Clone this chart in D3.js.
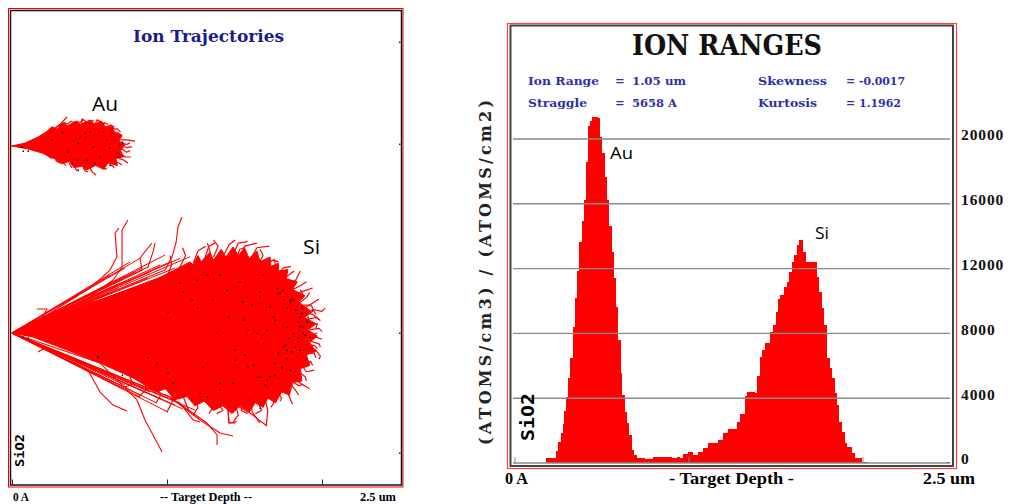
<!DOCTYPE html>
<html>
<head>
<meta charset="utf-8">
<script src="https://cdn.jsdelivr.net/npm/d3@7"></script>
<style>
  html, body { margin: 0; padding: 0; background: #fff; }
  svg { display: block; }
</style>
</head>
<body>
<div id="chart"></div>
<script>
// ---- data, depth and lateral in um, range in atoms ----
const rangeDepth = [0.181,0.239,0.250,0.266,0.277,0.286,0.296,0.309,0.321,0.336,0.346,0.361,0.372,0.388,0.398,0.413,0.424,0.434,0.447,0.463,0.478,0.491,0.505,0.518,0.533,0.545,0.559,0.570,0.585,0.597,0.610,0.620,0.633,0.647,0.660,0.674,0.687,0.706,0.750,0.798,0.903,0.932,0.951,0.968,0.997,1.026,1.055,1.083,1.112,1.170,1.198,1.227,1.279,1.296,1.325,1.336,1.382,1.394,1.411,1.422,1.440,1.468,1.486,1.503,1.514,1.526,1.549,1.566,1.578,1.595,1.606,1.624,1.635,1.658,1.675,1.739,1.750,1.767,1.779,1.796,1.813,1.825,1.842,1.853,1.865,1.882,1.900,1.911,1.940,1.957,1.997,2.032,2.480,2.500];
const rangeAtoms = [290,760,1315,1850,2410,3210,4090,5270,6460,8380,10170,11850,13620,14940,16240,18560,20800,21110,21380,21380,21280,20110,19120,17670,16240,14650,13040,11400,9650,7590,5560,4200,3170,2490,1730,800,490,290,230,390,310,390,310,560,660,490,700,910,1210,1420,1830,2120,2550,3010,4160,4370,4320,5380,6560,6980,7390,8100,8520,9300,10100,10370,10840,11150,11770,12390,12840,13460,13750,13040,12390,11500,10570,9540,8520,6460,5850,5230,4300,3580,2550,1930,1210,1010,600,290,80,0,80,0];
const rangeTicks = [0, 4000, 8000, 12000, 16000, 20000];
const depthTicks = [0, 1, 2];
const sideTicks = [1.877, 1.219, 0, -0.774];

const siOutline = [[0,0],[0.181,0.071],[0.374,0.142],[0.503,0.194],[0.716,0.265],[0.935,0.348],[1.148,0.458],[1.17,0.44],[1.20,0.50],[1.22,0.46],[1.277,0.52],[1.30,0.47],[1.35,0.54],[1.38,0.49],[1.426,0.555],[1.46,0.50],[1.50,0.55],[1.53,0.48],[1.58,0.53],[1.60,0.46],[1.665,0.49],[1.67,0.43],[1.72,0.45],[1.72,0.40],[1.78,0.41],[1.77,0.35],[1.84,0.33],[1.81,0.28],[1.89,0.24],[1.85,0.20],[1.93,0.14],[1.89,0.10],[1.96,0.06],[1.91,0.02],[1.97,-0.02],[1.92,-0.06],[1.96,-0.12],[1.90,-0.14],[1.92,-0.21],[1.86,-0.23],[1.87,-0.31],[1.81,-0.32],[1.79,-0.40],[1.74,-0.38],[1.70,-0.45],[1.65,-0.42],[1.62,-0.48],[1.57,-0.45],[1.53,-0.51],[1.47,-0.47],[1.42,-0.52],[1.36,-0.47],[1.30,-0.50],[1.24,-0.44],[1.18,-0.47],[1.13,-0.41],[1.05,-0.43],[0.99,-0.36],[0.93,-0.38],[0.781,-0.290],[0.568,-0.194],[0.355,-0.110],[0.135,-0.026]];
const siFanTips = [[0.987,0.503],[1.084,0.482],[0.826,0.482],[1.148,0.492],[0.729,0.419],[0.632,0.374],[0.761,0.458],[0.697,0.323],[0.761,0.342],[0.794,0.394],[0.839,0.419],[0.890,0.394],[0.955,0.439],[1.019,0.458],[1.052,0.419],[0.632,0.258],[0.684,0.290],[0.729,0.368],[0.806,0.297],[0.877,0.355],[0.923,0.323],[0.987,0.368],[1.071,0.394],[1.116,0.419],[0.600,0.213],[0.535,0.213],[0.503,-0.206],[0.632,-0.271],[0.729,-0.335],[0.890,-0.381],[1.052,-0.465],[1.181,-0.497],[0.826,-0.400],[1.006,-0.510],[0.935,-0.452],[0.826,-0.413],[0.710,-0.355],[0.560,-0.250],[0.660,-0.320],[0.770,-0.370],[0.970,-0.430],[1.100,-0.490]];
const siHairs = [
  [[1.00,0.36],[1.03,0.44],[1.02,0.50]],[[1.08,0.42],[1.12,0.50],[1.10,0.55]],[[1.17,0.45],[1.20,0.53],[1.25,0.56]],[[1.24,0.47],[1.27,0.56],[1.31,0.58]],
  [[1.30,0.49],[1.33,0.56],[1.30,0.60]],[[1.36,0.49],[1.40,0.57],[1.44,0.60]],[[1.42,0.49],[1.46,0.58],[1.52,0.59]],[[1.48,0.48],[1.50,0.56],[1.58,0.58]],
  [[1.53,0.46],[1.58,0.55],[1.66,0.56]],[[1.58,0.43],[1.62,0.50],[1.60,0.54]],[[1.62,0.41],[1.68,0.47],[1.72,0.46]],[[1.66,0.39],[1.70,0.44],[1.69,0.48]],
  [[1.70,0.36],[1.75,0.42],[1.80,0.43]],[[1.73,0.33],[1.78,0.37],[1.82,0.40]],[[1.76,0.30],[1.83,0.34],[1.86,0.40]],[[1.79,0.27],[1.85,0.30],[1.90,0.33]],
  [[1.82,0.25],[1.88,0.27],[1.94,0.29]],[[1.85,0.19],[1.90,0.23],[1.92,0.26]],[[1.87,0.15],[1.95,0.20],[1.98,0.22]],[[1.90,0.11],[1.95,0.15],[2.00,0.14],[2.02,0.16]],
  [[1.91,0.09],[1.96,0.10],[1.99,0.08]],[[1.92,0.05],[1.97,0.06],[1.96,0.03]],[[1.92,0.02],[1.98,0.03],[2.00,0.01]],[[1.93,-0.01],[1.97,-0.03],[2.00,-0.04]],
  [[1.92,-0.05],[1.98,-0.07],[1.99,-0.09]],[[1.92,-0.09],[1.96,-0.11],[1.99,-0.15],[1.98,-0.17]],[[1.90,-0.13],[1.95,-0.13],[1.96,-0.16]],[[1.88,-0.17],[1.93,-0.19],[1.94,-0.21]],
  [[1.87,-0.21],[1.90,-0.25],[1.95,-0.24]],[[1.85,-0.25],[1.89,-0.28],[1.90,-0.31]],[[1.82,-0.29],[1.87,-0.33],[1.92,-0.36]],[[1.79,-0.32],[1.83,-0.37],[1.85,-0.40]],
  [[1.75,-0.35],[1.78,-0.39],[1.81,-0.46]],[[1.71,-0.38],[1.74,-0.42],[1.73,-0.44]],[[1.67,-0.40],[1.69,-0.45],[1.67,-0.48]],[[1.63,-0.41],[1.65,-0.50],[1.64,-0.60]],
  [[1.58,-0.43],[1.61,-0.50],[1.57,-0.52]],[[1.54,-0.44],[1.55,-0.51],[1.60,-0.58]],[[1.49,-0.45],[1.48,-0.50],[1.52,-0.52]],[[1.44,-0.46],[1.46,-0.53],[1.43,-0.57]],
  [[1.39,-0.46],[1.40,-0.58],[1.44,-0.58]],[[1.33,-0.45],[1.36,-0.50],[1.32,-0.52]],[[1.26,-0.43],[1.29,-0.49],[1.27,-0.52]],[[1.18,-0.43],[1.20,-0.48],[1.17,-0.53]],
  [[1.10,-0.40],[1.12,-0.45],[1.14,-0.50]],[[1.02,-0.37],[1.04,-0.43],[1.00,-0.51]],[[0.93,-0.34],[0.96,-0.40],[0.93,-0.45]],[[0.85,-0.31],[0.87,-0.36],[0.82,-0.41]],
  [[0.76,-0.28],[0.78,-0.33],[0.71,-0.355]],[[1.88,0.18],[1.93,0.18],[1.96,0.12]],[[1.90,0.13],[1.94,0.12],[1.98,0.09]],[[1.91,-0.03],[1.94,-0.01],[1.97,0.00]],
  [[1.90,-0.08],[1.95,-0.08],[1.97,-0.10]],[[1.86,-0.20],[1.90,-0.21],[1.93,-0.18]],[[1.80,-0.31],[1.85,-0.34],[1.88,-0.33]],[[1.84,0.22],[1.88,0.24],[1.86,0.28]],
  [[1.77,0.29],[1.80,0.33],[1.84,0.33]],[[1.68,0.37],[1.72,0.40],[1.75,0.39]],[[1.45,0.49],[1.47,0.54],[1.50,0.55]],[[1.26,0.47],[1.28,0.52],[1.26,0.58]]
];
const siStragglers = [
  [[0,0],[0.245,0.129],[0.503,0.290],[0.632,0.406],[0.677,0.490],[0.665,0.645],[0.690,0.677]],
  [[0,0],[0.310,0.135],[0.503,0.232],[0.652,0.342],[0.710,0.426],[0.710,0.665],[0.748,0.729]],
  [[0,0],[0.987,0.406],[1.032,0.490],[1.058,0.581],[1.071,0.684],[1.097,0.748]],
  [[0,0],[0.877,0.426],[0.910,0.523],[0.923,0.581]],
  [[0,0],[0.839,0.406],[0.826,0.484],[0.901,0.579]],
  [[0,0],[0.194,0.097],[0.226,0.155],[0.161,0.155]],
  [[0,0],[0.065,0.039]],
  [[0,0],[0.213,-0.097],[0.168,-0.123]],
  [[0,0],[0.568,-0.194],[0.806,-0.432],[0.858,-0.561],[0.968,-0.768]],
  [[0,0],[0.490,-0.239],[0.568,-0.381],[0.652,-0.465],[0.742,-0.503]],
  [[0,0],[1.019,-0.413],[1.213,-0.561],[1.342,-0.645],[1.426,-0.665]],
  [[0,0],[1.019,-0.413],[1.258,-0.581],[1.323,-0.658],[1.323,-0.723]],
  [[1.400,-0.440],[1.535,-0.516],[1.645,-0.600]],
  [[1.394,-0.484],[1.400,-0.581],[1.450,-0.572]],
  [[0,0],[1.084,-0.452],[1.168,-0.561],[1.213,-0.574]]
];
const siDots = [[1.813,0.213],[1.858,0.103],[1.935,0.148],[1.877,0.039],[1.729,0.258],[1.710,0.290],[1.258,0.374],[1.342,0.374],[1.200,0.161],[1.006,0.135],[1.103,0.265],[1.161,0.213],[1.297,0.213],[1.458,0.329],[1.490,0.200],[1.600,0.232],[1.619,0.374],[1.748,0.277],[1.794,0.213],[1.826,0.148],[1.774,0.161],[1.845,0.071],[1.903,0.071],[1.877,0],[1.845,-0.032],[1.761,-0.077],[1.826,-0.090],[1.716,-0.129],[1.839,-0.155],[1.774,-0.110],[1.523,-0.219],[1.232,-0.219],[1.342,-0.323],[1.426,-0.323],[1.581,-0.284],[1.645,-0.303],[1.697,-0.271],[1.742,-0.219],[1.794,-0.239],[1.258,-0.413],[1.342,-0.368],[1.535,-0.432],[1.600,-0.484],[0.877,-0.161],[0.710,-0.271],[1.006,-0.258],[0.555,-0.155],[0.071,-0.026],[0.103,-0.032],[0.935,-0.194],[1.213,-0.387],[1.039,-0.323],[1.439,-0.174],[1.523,0.019],[1.645,0.019],[1.774,0.039],[1.323,0],[1.194,0.342],[1.084,0.323],[1.387,0.277],[1.665,0.168],[1.697,0.084],[1.871,0.168],[1.910,0.103],[1.923,-0.026],[1.858,-0.110],[1.890,-0.174],[1.718,0.256],[1.753,0.213],[1.794,0.202],[1.837,0.148],[1.869,0.127],[1.901,0.084],[1.858,0.041],[1.815,-0.002],[1.890,-0.013],[1.783,-0.034],[1.847,-0.056],[1.750,-0.088],[1.805,-0.120],[1.718,-0.131],[1.772,-0.163],[1.697,-0.195],[1.740,-0.228],[1.665,-0.282],[1.632,-0.335],[1.718,-0.325],[1.600,-0.282],[1.557,-0.206],[1.503,-0.142],[1.439,-0.110],[1.492,0.084],[1.579,-0.002],[1.621,-0.067],[1.395,0.105],[1.600,0.267],[1.471,0.331],[1.342,0.374],[1.299,0.353],[1.546,0.181],[1.686,0.105]];

const auOutline = [[0,0],[0.084,0.019],[0.168,0.058],[0.22,0.09],[0.258,0.125],[0.29,0.11],[0.33,0.15],[0.36,0.13],[0.41,0.16],[0.44,0.14],[0.50,0.165],[0.53,0.145],[0.58,0.155],[0.60,0.125],[0.65,0.125],[0.66,0.09],[0.71,0.07],[0.69,0.03],[0.73,0.01],[0.70,-0.03],[0.72,-0.07],[0.67,-0.08],[0.68,-0.125],[0.62,-0.11],[0.59,-0.15],[0.54,-0.125],[0.48,-0.155],[0.45,-0.13],[0.40,-0.14],[0.37,-0.10],[0.32,-0.115],[0.28,-0.085],[0.194,-0.045],[0.103,-0.019]];
const auHairs = [
  [[0.26,0.10],[0.31,0.14],[0.355,0.187]],[[0.27,0.11],[0.30,0.13],[0.34,0.15]],[[0.32,0.13],[0.34,0.15],[0.36,0.14]],[[0.36,0.14],[0.38,0.16],[0.40,0.15]],
  [[0.40,0.14],[0.42,0.16],[0.44,0.15]],[[0.44,0.15],[0.46,0.17],[0.48,0.155]],[[0.49,0.15],[0.50,0.165],[0.53,0.16]],[[0.54,0.15],[0.55,0.17],[0.58,0.15]],
  [[0.58,0.14],[0.60,0.15],[0.62,0.14]],[[0.62,0.13],[0.64,0.135],[0.66,0.12]],[[0.65,0.11],[0.68,0.11],[0.70,0.09]],[[0.68,0.09],[0.70,0.07],[0.71,0.06]],
  [[0.70,0.04],[0.74,0.04],[0.794,0.032]],[[0.71,0.02],[0.74,0.01],[0.76,0.02]],[[0.71,0.00],[0.74,-0.01],[0.774,-0.006]],[[0.71,-0.02],[0.74,-0.04],[0.76,-0.03]],
  [[0.70,-0.05],[0.73,-0.07],[0.768,-0.071]],[[0.69,-0.08],[0.72,-0.09],[0.748,-0.110]],[[0.66,-0.10],[0.69,-0.11],[0.71,-0.123]],[[0.63,-0.12],[0.65,-0.13],[0.66,-0.142]],
  [[0.59,-0.13],[0.60,-0.15],[0.613,-0.142]],[[0.50,-0.14],[0.52,-0.17],[0.542,-0.187]],[[0.46,-0.14],[0.47,-0.16],[0.49,-0.168]],[[0.41,-0.13],[0.41,-0.15],[0.426,-0.161]],
  [[0.37,-0.11],[0.38,-0.13],[0.387,-0.142]],[[0.33,-0.10],[0.33,-0.11],[0.35,-0.125]],[[0.28,-0.09],[0.29,-0.10],[0.31,-0.11]],[[0.22,-0.055],[0.24,-0.07],[0.26,-0.08]],
  [[0.55,0.15],[0.57,0.16],[0.60,0.14]],[[0.45,0.15],[0.45,0.17],[0.46,0.175]]
];
const auStragglers = [[[-0.006,0],[0.1,0]]];
const auDots = [[0.426,0.019],[0.471,0.084],[0.503,0.090],[0.361,-0.039],[0.419,-0.090],[0.523,-0.006],[0.613,0.039],[0.665,0.039],[0.697,0.006],[0.677,-0.045],[0.632,-0.013],[0.568,-0.071],[0.484,-0.090],[0.439,0.058],[0.587,0.090],[0.645,0.084],[0.258,0.039],[0.323,0.090],[0.387,-0.110],[0.426,-0.155],[0.535,-0.110],[0.632,-0.123],[0.684,-0.071],[0.710,0.026],[0.065,-0.006],[0.071,-0.032],[0.103,-0.032]];

const statsLeft = [["Ion Range", "=", "1.05 um"], ["Straggle", "=", "5658 A"]];
const statsRight = [["Skewness", "= -0.0017"], ["Kurtosis", "= 1.1962"]];

// ---- page ----
const width_svg = 1009, height_svg = 504;
const serif = '"Liberation Serif", serif';
const slab = '"DejaVu Serif", serif';
const mono = '"DejaVu Sans Mono", monospace';
const sans = '"Open Sans", sans-serif';
const navy = '#1b1b8f', statBlue = '#3030a8';

const svg = d3.select('#chart').append('svg')
  .attr('width', width_svg)
  .attr('height', height_svg);

function label(x, y, str, size, family, opts){
  opts = opts || {};
  let t = svg.append('text')
    .attr('x', x).attr('y', y)
    .attr('font-family', family)
    .attr('font-size', size)
    .attr('font-weight', opts.weight || 'bold')
    .attr('fill', opts.fill || '#000')
    .attr('text-anchor', opts.anchor || 'start')
    .text(str);
  if(opts.len) t.attr('textLength', opts.len).attr('lengthAdjust', opts.adjust || 'spacingAndGlyphs');
  if(opts.rotate) t.attr('transform', `rotate(-90, ${x}, ${y})`);
  return t;
}

function frame(x0, y0, x1, y1, color, w){
  svg.append('rect')
    .attr('x', x0).attr('y', y0)
    .attr('width', x1 - x0).attr('height', y1 - y0)
    .attr('fill', 'none')
    .attr('stroke', color)
    .attr('stroke-width', w);
}

// ---- left panel: trajectories ----
const xTraj = d3.scaleLinear().domain([0, 2.5]).range([12, 399.5]);
const ySi = d3.scaleLinear().domain([-1, 1]).range([333 + 155, 333 - 155]);
const yAu = d3.scaleLinear().domain([-1, 1]).range([146 + 155, 146 - 155]);

function drawIons(outline, tips, hairs, stragglers, dots, y){
  let line = d3.line().x(d => xTraj(d[0])).y(d => y(d[1]));
  let g = svg.append('g').attr('fill', 'none').attr('stroke', '#ff0000');
  g.append('path')
    .attr('d', line(outline) + 'Z')
    .attr('fill', '#ff0000')
    .attr('stroke-width', 1);
  g.selectAll('path.tip').data(tips).enter().append('path')
    .attr('class', 'tip')
    .attr('d', d => line([[0, 0], d]))
    .attr('stroke-width', 1);
  g.selectAll('path.hair').data(hairs).enter().append('path')
    .attr('class', 'hair')
    .attr('d', d => line(d))
    .attr('stroke-width', 1.2)
    .attr('stroke-linejoin', 'round');
  g.selectAll('path.stray').data(stragglers).enter().append('path')
    .attr('class', 'stray')
    .attr('d', d => line(d))
    .attr('stroke-width', 1.1)
    .attr('stroke-linejoin', 'round');
  svg.append('g').selectAll('rect').data(dots).enter().append('rect')
    .attr('x', d => xTraj(d[0]) - 0.5)
    .attr('y', d => y(d[1]) - 0.5)
    .attr('width', 1.5).attr('height', 1.5)
    .attr('fill', '#111');
}

drawIons(auOutline, [], auHairs, auStragglers, auDots, yAu);
drawIons(siOutline, siFanTips, siHairs, siStragglers, siDots, ySi);

frame(8.5, 8.5, 403, 487, '#ee0000', 1);
frame(10.5, 10.5, 401.5, 485, '#111', 1.5);

svg.append('g')
  .attr('transform', 'translate(0, 484.5)')
  .call(d3.axisTop(xTraj).tickValues(depthTicks).tickSize(5).tickFormat(''))
  .call(g => g.select('.domain').remove())
  .call(g => g.selectAll('.tick line').attr('stroke', '#222'));
svg.append('g').selectAll('rect').data(sideTicks).enter().append('rect')
  .attr('x', 399).attr('y', d => ySi(d) - 0.5)
  .attr('width', 1.5).attr('height', 1.5)
  .attr('fill', '#222');

label(133, 42, 'Ion Trajectories', 17, slab, {fill: navy, len: 151});
label(92, 111, 'Au', 20, sans, {weight: 'normal', len: 26});
label(303, 254, 'Si', 20, sans, {weight: 'normal', len: 17});
label(24, 467, 'SiO2', 12, mono, {rotate: true, len: 33});
label(13, 501, '0 A', 12, serif, {len: 16});
label(160, 501, '-- Target Depth --', 12, serif, {len: 92});
label(360, 501, '2.5 um', 12, serif, {len: 36});

// ---- right panel: ion ranges ----
const xRange = d3.scaleLinear().domain([0, 2.5]).range([514.5, 949.5]);
const yRange = d3.scaleLinear().domain([0, 20000]).range([463, 139]);

const area = d3.area()
  .curve(d3.curveStepAfter)
  .x((d, i) => xRange(rangeDepth[i]))
  .y0(yRange(0))
  .y1(d => yRange(d));

svg.append('path')
  .datum(rangeAtoms)
  .attr('d', area)
  .attr('fill', '#ff0000')
  .attr('shape-rendering', 'crispEdges');

svg.append('g').selectAll('line').data(rangeTicks).enter().append('line')
  .attr('x1', 513).attr('x2', 950)
  .attr('y1', d => yRange(d)).attr('y2', d => yRange(d))
  .attr('stroke', '#8a8a8a')
  .attr('stroke-width', 1.4);

svg.append('g')
  .attr('transform', 'translate(0, 463)')
  .call(d3.axisTop(xRange).tickValues(depthTicks).tickSize(6).tickFormat(''))
  .call(g => g.select('.domain').remove())
  .call(g => g.selectAll('.tick line').attr('stroke', '#8a8a8a'));

frame(507.5, 23.5, 956.5, 468.5, '#ff4040', 1.2);
frame(510.5, 25.5, 953, 466, '#444', 2);

svg.append('g')
  .attr('transform', 'translate(961, -4)')
  .call(d3.axisRight(yRange).tickValues(rangeTicks).tickSize(0).tickPadding(0).tickFormat(d3.format('d')))
  .call(g => g.select('.domain').remove())
  .call(g => g.selectAll('text')
    .attr('font-family', serif)
    .attr('font-size', 15.5)
    .attr('font-weight', 'bold')
    .attr('letter-spacing', 0.9)
    .attr('fill', '#111'));

label(632, 55, 'ION RANGES', 27, slab, {len: 190, fill: '#111'});
statsLeft.forEach((r, i) => {
  let y = 85 + i * 21.5;
  label(528, y, r[0], 11.5, slab, {fill: statBlue, len: i ? 59 : 71});
  label(615, y, r[1], 11.5, slab, {fill: statBlue});
  label(632, y, r[2], 11.5, slab, {fill: statBlue, len: i ? 45 : 54});
});
statsRight.forEach((r, i) => {
  let y = 85 + i * 21.5;
  label(758, y, r[0], 11.5, slab, {fill: statBlue, len: i ? 59 : 69});
  label(846, y, r[1], 11.5, slab, {fill: statBlue, len: i ? 55 : 59});
});

label(610, 159, 'Au', 16, sans, {weight: 'normal', len: 23});
label(815, 239, 'Si', 16, sans, {weight: 'normal', len: 14});
label(534, 441, 'SiO2', 17, mono, {rotate: true, len: 48});
label(491, 445, '(ATOMS/cm3) / (ATOMS/cm2)', 16, slab, {rotate: true, len: 345, adjust: 'spacing', fill: '#222'});
label(505, 484, '0 A', 16, serif, {len: 23});
label(669, 484, '- Target Depth -', 16, serif, {len: 125});
label(923, 484, '2.5 um', 16, serif, {len: 52});
</script>
</body>
</html>
